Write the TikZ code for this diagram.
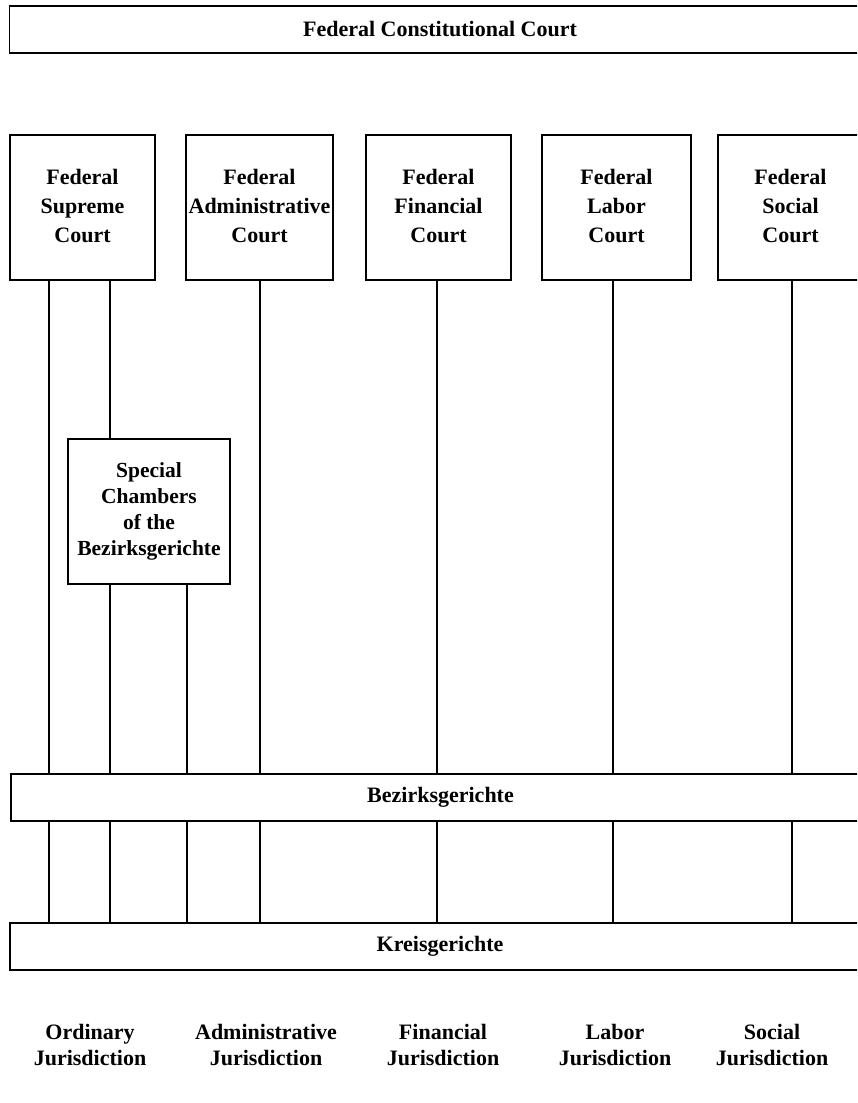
\documentclass[tikz,border=0pt]{standalone}
\usepackage{fontspec}
\setmainfont{Liberation Serif}
\newcommand{\upblock}[1]{\raisebox{3pt}{\begin{tabular}{@{}c@{}}#1\end{tabular}}}
\begin{document}
\begin{tikzpicture}[x=1pt,y=-1pt,
  box/.style={draw, line width=1.6pt, align=center, inner sep=0pt, font=\bfseries\fontsize{22}{29}\selectfont},
  spbox/.style={box, font=\bfseries\fontsize{21.5}{26}\selectfont},
  conn/.style={line width=1.6pt},
  lab/.style={align=center, font=\bfseries\fontsize{22}{26}\selectfont}]
\useasboundingbox (0,0) rectangle (857,1103);
\clip (0,0) rectangle (857,1103);
% top bar
\node[box, minimum width=861, minimum height=47] (fcc) at (440,29.5) {Federal Constitutional Court};
% federal courts
\node[box, minimum width=145, minimum height=145] (sup) at (82.5,207.5) {\upblock{Federal\\Supreme\\Court}};
\node[box, minimum width=147, minimum height=145] (adm) at (259.5,207.5) {\upblock{Federal\\Administrative\\Court}};
\node[box, minimum width=145, minimum height=145] (fin) at (438.5,207.5) {\upblock{Federal\\Financial\\Court}};
\node[box, minimum width=149, minimum height=145] (lab) at (616.5,207.5) {\upblock{Federal\\Labor\\Court}};
\node[box, minimum width=145, minimum height=145] (soc) at (790.5,207.5) {\upblock{Federal\\Social\\Court}};
% special chambers
\node[spbox, minimum width=162, minimum height=145] (spc) at (149,511.5) {Special\\Chambers\\of the\\Bezirksgerichte};
% bars
\node[box, minimum width=859, minimum height=47] (bez) at (440.5,797.5) {Bezirksgerichte};
\node[box, minimum width=860, minimum height=47] (kre) at (440,946.5) {Kreisgerichte};
% column positions
\coordinate (c1) at (49,0);
\coordinate (c2) at (110,0);
\coordinate (c3) at (187,0);
\coordinate (c4) at (260,0);
\coordinate (c5) at (437,0);
\coordinate (c6) at (613,0);
\coordinate (c7) at (792,0);
% connectors: federal courts to Bezirksgerichte
\draw[conn] (sup.south -| c1) -- (bez.north -| c1);
\draw[conn] (sup.south -| c2) -- (spc.north -| c2);
\draw[conn] (spc.south -| c2) -- (bez.north -| c2);
\draw[conn] (spc.south -| c3) -- (bez.north -| c3);
\draw[conn] (adm.south -| c4) -- (bez.north -| c4);
\draw[conn] (fin.south -| c5) -- (bez.north -| c5);
\draw[conn] (lab.south -| c6) -- (bez.north -| c6);
\draw[conn] (soc.south -| c7) -- (bez.north -| c7);
% Bezirksgerichte to Kreisgerichte
\foreach \c in {c1,c2,c3,c4,c5,c6,c7}
  \draw[conn] (bez.south -| \c) -- (kre.north -| \c);
% jurisdiction labels
\node[lab] (j1) at (90,1045) {Ordinary\\Jurisdiction};
\node[lab] (j2) at (266,1045) {Administrative\\Jurisdiction};
\node[lab] (j3) at (443,1045) {Financial\\Jurisdiction};
\node[lab] (j4) at (615,1045) {Labor\\Jurisdiction};
\node[lab] (j5) at (772,1045) {Social\\Jurisdiction};
\end{tikzpicture}
\end{document}
